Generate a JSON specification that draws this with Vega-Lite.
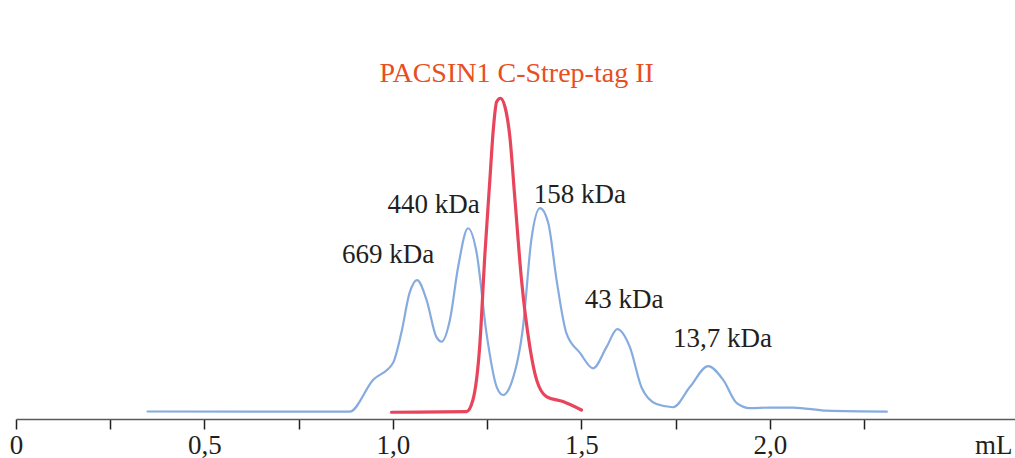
{
  "$schema": "https://vega.github.io/schema/vega-lite/v6.json",
  "width": 999,
  "height": 419,
  "autosize": "none",
  "padding": {"left": 16, "top": 0, "right": 0, "bottom": 39},
  "background": "white",
  "config": {"view": {"stroke": null}},
  "datasets": {
    "curves": [
      {"series": "standards", "mL": 0.349, "abs": -0.16},
      {"series": "standards", "mL": 0.885, "abs": -0.22},
      {"series": "standards", "mL": 0.947, "abs": 9.87},
      {"series": "standards", "mL": 1.0, "abs": 15.3},
      {"series": "standards", "mL": 1.022, "abs": 24.8},
      {"series": "standards", "mL": 1.044, "abs": 37.6},
      {"series": "standards", "mL": 1.064, "abs": 41.7},
      {"series": "standards", "mL": 1.089, "abs": 35.4},
      {"series": "standards", "mL": 1.115, "abs": 23.6},
      {"series": "standards", "mL": 1.129, "abs": 22.1},
      {"series": "standards", "mL": 1.151, "abs": 29.0},
      {"series": "standards", "mL": 1.173, "abs": 46.0},
      {"series": "standards", "mL": 1.199, "abs": 58.2},
      {"series": "standards", "mL": 1.222, "abs": 50.3},
      {"series": "standards", "mL": 1.248, "abs": 24.8},
      {"series": "standards", "mL": 1.275, "abs": 7.7},
      {"series": "standards", "mL": 1.292, "abs": 5.1},
      {"series": "standards", "mL": 1.314, "abs": 8.9},
      {"series": "standards", "mL": 1.345, "abs": 26.8},
      {"series": "standards", "mL": 1.367, "abs": 54.5},
      {"series": "standards", "mL": 1.39, "abs": 64.6},
      {"series": "standards", "mL": 1.412, "abs": 59.8},
      {"series": "standards", "mL": 1.434, "abs": 41.7},
      {"series": "standards", "mL": 1.46, "abs": 24.8},
      {"series": "standards", "mL": 1.496, "abs": 18.5},
      {"series": "standards", "mL": 1.531, "abs": 13.6},
      {"series": "standards", "mL": 1.567, "abs": 20.5},
      {"series": "standards", "mL": 1.595, "abs": 26.1},
      {"series": "standards", "mL": 1.628, "abs": 20.5},
      {"series": "standards", "mL": 1.66, "abs": 7.3},
      {"series": "standards", "mL": 1.699, "abs": 2.2},
      {"series": "standards", "mL": 1.743, "abs": 1.2},
      {"series": "standards", "mL": 1.788, "abs": 7.7},
      {"series": "standards", "mL": 1.836, "abs": 14.3},
      {"series": "standards", "mL": 1.876, "abs": 9.9},
      {"series": "standards", "mL": 1.912, "abs": 2.5},
      {"series": "standards", "mL": 1.947, "abs": 0.9},
      {"series": "standards", "mL": 2.0, "abs": 1.1},
      {"series": "standards", "mL": 2.062, "abs": 1.1},
      {"series": "standards", "mL": 2.15, "abs": 0.1},
      {"series": "standards", "mL": 2.31, "abs": -0.2},
      {"series": "PACSIN1", "mL": 0.996, "abs": -0.4},
      {"series": "PACSIN1", "mL": 1.195, "abs": -0.2},
      {"series": "PACSIN1", "mL": 1.212, "abs": 3.5},
      {"series": "PACSIN1", "mL": 1.23, "abs": 20.5},
      {"series": "PACSIN1", "mL": 1.244, "abs": 50.3},
      {"series": "PACSIN1", "mL": 1.257, "abs": 73.6},
      {"series": "PACSIN1", "mL": 1.266, "abs": 89.5},
      {"series": "PACSIN1", "mL": 1.275, "abs": 98.5},
      {"series": "PACSIN1", "mL": 1.285, "abs": 99.6},
      {"series": "PACSIN1", "mL": 1.297, "abs": 96.9},
      {"series": "PACSIN1", "mL": 1.31, "abs": 87.4},
      {"series": "PACSIN1", "mL": 1.323, "abs": 68.2},
      {"series": "PACSIN1", "mL": 1.341, "abs": 41.7},
      {"series": "PACSIN1", "mL": 1.363, "abs": 20.5},
      {"series": "PACSIN1", "mL": 1.381, "abs": 9.9},
      {"series": "PACSIN1", "mL": 1.407, "abs": 4.6},
      {"series": "PACSIN1", "mL": 1.451, "abs": 3.0},
      {"series": "PACSIN1", "mL": 1.5, "abs": 0.3}
    ],
    "labels": [
      {"label": "PACSIN1 C-Strep-tag II", "kind": "sample", "mL": 1.328, "abs": 104.9},
      {"label": "669 kDa", "kind": "standard", "mL": 0.987, "abs": 47.2},
      {"label": "440 kDa", "kind": "standard", "mL": 1.108, "abs": 63.0},
      {"label": "158 kDa", "kind": "standard", "mL": 1.496, "abs": 66.3},
      {"label": "43 kDa", "kind": "standard", "mL": 1.613, "abs": 32.7},
      {"label": "13,7 kDa", "kind": "standard", "mL": 1.874, "abs": 20.5}
    ]
  },
  "layer": [
    {
      "data": {"name": "curves"},
      "mark": {"type": "line", "interpolate": "monotone", "strokeJoin": "round", "strokeCap": "round"},
      "encoding": {
        "x": {
          "field": "mL", "type": "quantitative",
          "scale": {"domain": [0, 2.65], "nice": false, "zero": false},
          "axis": {
            "values": [0, 0.25, 0.5, 0.75, 1, 1.25, 1.5, 1.75, 2, 2.25],
            "labelExpr": "datum.value == 0 ? '0' : (abs(datum.value * 2 - round(datum.value * 2)) < 0.001 ? replace(format(datum.value, '.1f'), '.', ',') : '')",
            "labelFont": "Liberation Serif",
            "labelFontSize": 27,
            "labelColor": "#231f20",
            "labelBaseline": "alphabetic",
            "labelPadding": 24,
            "labelOverlap": false,
            "labelFlush": false,
            "tickSize": 10,
            "tickColor": "#231f20",
            "tickWidth": 1.5,
            "domainColor": "#5a5a5a",
            "domainWidth": 1.5,
            "grid": false,
            "title": "mL",
            "titleFont": "Liberation Serif",
            "titleFontSize": 27,
            "titleFontWeight": "normal",
            "titleColor": "#231f20",
            "titleAlign": "right",
            "titleBaseline": "alphabetic",
            "titleAnchor": "end",
            "titleX": 996,
            "titleY": 34
          }
        },
        "y": {
          "field": "abs", "type": "quantitative",
          "scale": {"domain": [-2.55, 130.9], "nice": false, "zero": false},
          "axis": null
        },
        "color": {
          "field": "series", "type": "nominal",
          "scale": {"domain": ["standards", "PACSIN1"], "range": ["#86abdf", "#e8455c"]},
          "legend": null
        },
        "strokeWidth": {
          "field": "series", "type": "nominal",
          "scale": {"domain": ["standards", "PACSIN1"], "range": [2.2, 3.2]},
          "legend": null
        },
        "order": {"field": "mL", "type": "quantitative"}
      }
    },
    {
      "data": {"name": "labels"},
      "mark": {"type": "text", "font": "Liberation Serif", "align": "center", "baseline": "alphabetic"},
      "encoding": {
        "x": {"field": "mL", "type": "quantitative"},
        "y": {"field": "abs", "type": "quantitative"},
        "text": {"field": "label"},
        "color": {
          "field": "kind", "type": "nominal",
          "scale": {"domain": ["sample", "standard"], "range": ["#e94e1e", "#231f20"]},
          "legend": null
        },
        "size": {
          "field": "kind", "type": "nominal",
          "scale": {"domain": ["sample", "standard"], "range": [28, 27]},
          "legend": null
        }
      }
    }
  ],
  "resolve": {"scale": {"color": "independent", "size": "independent"}}
}
